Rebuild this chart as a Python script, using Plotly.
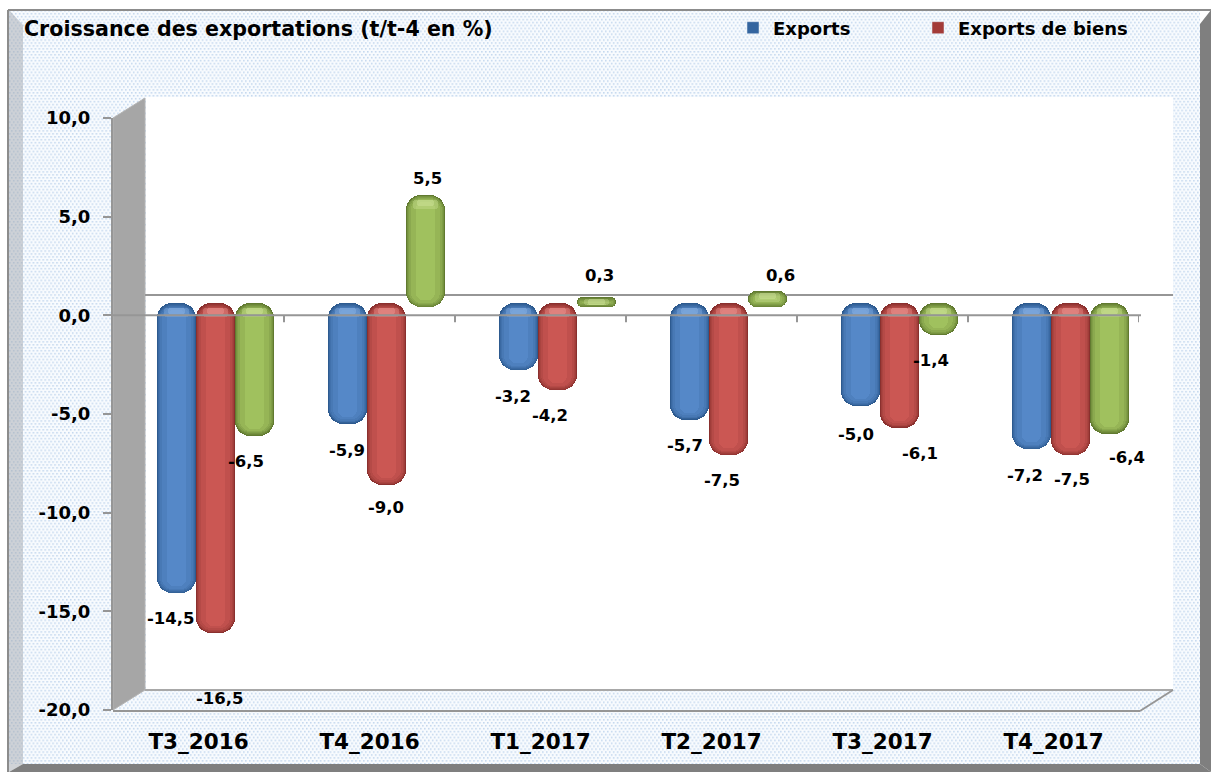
import urllib.parse
import plotly.graph_objects as go

categories = ["T3_2016", "T4_2016", "T1_2017", "T2_2017", "T3_2017", "T4_2017"]
exports = [-14.5, -5.9, -3.2, -5.7, -5.0, -7.2]
exports_biens = [-16.5, -9.0, -4.2, -7.5, -6.1, -7.5]
exports_services = [-6.5, 5.5, 0.3, 0.6, -1.4, -6.4]
y_tick_vals = [10, 5, 0, -5, -10, -15, -20]
y_tick_text = ["10,0", "5,0", "0,0", "-5,0", "-10,0", "-15,0", "-20,0"]

W, H = 1211, 772
X = lambda p: p / W
Y = lambda p: 1 - p / H
PLOT_L, PLOT_R, PLOT_T, PLOT_B = 113, 1139, 118, 710
DX, DY = 17, 8
PX_PER_UNIT = (PLOT_B - PLOT_T) / 30
ZERO_PX = PLOT_T + 10 * PX_PER_UNIT
U = 1 / PX_PER_UNIT
CAT_W = (PLOT_R - PLOT_L) / 6
BAR_W = 39 / CAT_W
GREY = "#969696"
BOLD = "DejaVu Sans"


def ramp(c0, c1, n):
    a = [int(c0[i:i + 2], 16) for i in (1, 3, 5)]
    b = [int(c1[i:i + 2], 16) for i in (1, 3, 5)]
    return ["#" + "".join(f"{round(p + (q - p) * t / (n - 1)):02x}" for p, q in zip(a, b)) for t in range(n)]


N = 7
series = [
    ("Exports", exports, ramp("#2d5a8f", "#5588c8", N), "#8db4e4", "legend", "#34659f"),
    ("Exports de biens", exports_biens, ramp("#8a302e", "#cb5753", N), "#eb9a95", "legend2", "#a33b38"),
    ("Exports de services", exports_services, ramp("#617a30", "#a0c15e", N), "#d0e49c", None, "#7f9c42"),
]
layer_frac = [1.0, 0.97, 0.94, 0.9, 0.85, 0.76, 0.5]
layer_inset = [0, 0.7, 1.4, 2.2, 3.2, 4.6, 7.0]
layer_radius = [15, 14.5, 14, 13, 12, 10, 7]

fig = go.Figure()
for j, (name, vals, cols, hi, legend, swatch) in enumerate(series):
    centre = -BAR_W + j * BAR_W
    xs = list(range(len(vals)))
    for k, col in enumerate(cols):
        w = BAR_W * layer_frac[k]
        upper = [(max(v, 0) + 4 * U - layer_inset[k] * U) for v in vals]
        lower = [(min(v, 0) + layer_inset[k] * U) for v in vals]
        lower = [min(b, a - 0.2 * U) for a, b in zip(upper, lower)]
        fig.add_bar(x=xs, y=[b - a for a, b in zip(upper, lower)], base=upper, name=name,
                    width=w, offset=centre - w / 2, xaxis="x2", yaxis="y2", hoverinfo="skip",
                    showlegend=False,
                    marker=dict(color=col, line=dict(width=0), cornerradius=layer_radius[k]))
    # soft highlight just below the rounded upper end of each bar
    for w_frac, depth, op in [(0.62, 9, 0.35), (0.42, 6, 0.45)]:
        w = BAR_W * w_frac
        tops = [max(v, 0) - 1 * U if v < -1 or v > 1 else max(v, 0) + 2.5 * U for v in vals]
        lows = [max(t - depth * U, min(v, 0) + 2.5 * U) for t, v in zip(tops, vals)]
        fig.add_bar(x=xs, y=[lo - t for t, lo in zip(tops, lows)], base=tops, width=w,
                    offset=centre - w / 2, xaxis="x2", yaxis="y2", hoverinfo="skip", showlegend=False,
                    opacity=op, marker=dict(color=hi, line=dict(width=0), cornerradius=3))
    if legend:
        fig.add_bar(x=[None], y=[None], name=name, xaxis="x2", yaxis="y2", legend=legend,
                    marker=dict(color=swatch))

# invisible anchor so the front-plane axes exist
fig.add_scatter(x=list(range(6)), y=exports, mode="none", showlegend=False, hoverinfo="skip")

svg = (f'<svg xmlns="http://www.w3.org/2000/svg" width="{W}" height="{H}">'
       '<defs><pattern id="d" width="4" height="6" patternUnits="userSpaceOnUse">'
       '<rect width="4" height="6" fill="#f8fbfe"/>'
       '<rect x="0" y="0" width="1.6" height="1.6" fill="#c3d7ee"/>'
       '<rect x="2" y="3" width="1.6" height="1.6" fill="#c3d7ee"/></pattern></defs>'
       f'<rect width="{W}" height="{H}" fill="url(#d)"/></svg>')
bg_src = "data:image/svg+xml," + urllib.parse.quote(svg)


def poly(points, fill, line=None, lw=0, layer="below"):
    d = "M" + " L".join(f"{X(a):.5f},{Y(b):.5f}" for a, b in points) + " Z"
    return dict(type="path", xref="paper", yref="paper", path=d, fillcolor=fill, layer=layer,
                line=dict(color=line or "rgba(0,0,0,0)", width=lw))


def seg(a, b, c, d, color=GREY, width=2, layer="below"):
    return dict(type="line", xref="paper", yref="paper", x0=X(a), y0=Y(b), x1=X(c), y1=Y(d), layer=layer,
                line=dict(color=color, width=width))


shapes = [
    poly([(146, 97), (1173, 97), (1173, 690), (146, 690)], "#ffffff"),
    poly([(113, 118), (145, 98), (145, 690), (113, 710)], "#a6a6a6", "#b4b4b4", 1),
    seg(145, 690, 1173, 690, "#a8a8a8", 2),
    seg(113, 711, 1140, 711, GREY, 2),
    seg(1140, 711, 1173, 690, GREY, 2),
    seg(145, 295, 1173, 295, GREY, 2),
    poly([(9, 10), (23, 25), (23, 764), (9, 772)], "rgba(170,175,182,0.55)"),
    poly([(9, 772), (23, 764), (1200, 764), (1211, 772)], "#7f7f7f"),
    poly([(1211, 10), (1200, 24), (1200, 764), (1211, 772)], "#7f7f7f"),
    seg(8, 10, 1211, 10, "#8c8c8c", 2),
    seg(8, 10, 8, 772, "#8c8c8c", 2),
    seg(PLOT_L, ZERO_PX, 1141, ZERO_PX, GREY, 2, layer="above"),
]
for i in range(1, 7):
    shapes.append(dict(type="line", xref="x", yref="y", x0=i - 0.5, x1=i - 0.5, y0=0, y1=-7 * U,
                       layer="below", line=dict(color=GREY, width=2)))

label_px = [
    [(171, 618), (347, 451), (513, 396), (685, 446), (856, 435), (1025, 476)],
    [(220, 699), (386, 508), (550, 416), (722, 481), (920, 453), (1072, 480)],
    [(246, 461), (427, 179), (599, 276), (780, 276), (931, 361), (1127, 457)],
]
annotations = [dict(text="Croissance des exportations (t/t-4 en %)", xref="paper", yref="paper",
                    x=X(22), y=Y(29), xanchor="left", yanchor="middle", showarrow=False,
                    font=dict(family=BOLD, size=20.6, color="#000000", weight="bold"))]
for (name, vals, *_), pts in zip(series, label_px):
    for i, (v, (px, py)) in enumerate(zip(vals, pts)):
        ax = PLOT_L + CAT_W * (i + 0.5)
        ay = ZERO_PX - v * PX_PER_UNIT
        annotations.append(dict(text=f"{v:.1f}".replace(".", ","), x=i, y=v, xref="x", yref="y",
                                xshift=px - ax, yshift=ay - py, showarrow=False,
                                xanchor="center", yanchor="middle",
                                font=dict(family=BOLD, size=16.5, color="#000000", weight="bold")))

legend_font = dict(family=BOLD, size=18, color="#000000", weight="bold")
fig.update_layout(
    width=W, height=H, margin=dict(l=0, r=0, t=0, b=0, pad=0, autoexpand=False), autosize=False,
    paper_bgcolor="#ffffff", plot_bgcolor="rgba(0,0,0,0)",
    barmode="overlay", bargap=0,
    images=[dict(source=bg_src, xref="paper", yref="paper", x=X(9), y=Y(10), sizex=X(1191), sizey=754 / H,
                 sizing="stretch", xanchor="left", yanchor="top", layer="below")],
    shapes=shapes, annotations=annotations,
    showlegend=True,
    legend=dict(x=X(733), y=Y(28), xanchor="left", yanchor="middle", bgcolor="rgba(0,0,0,0)", font=legend_font),
    legend2=dict(x=X(918), y=Y(28), xanchor="left", yanchor="middle", bgcolor="rgba(0,0,0,0)", font=legend_font),
    xaxis=dict(domain=[X(PLOT_L), X(PLOT_R)], range=[-0.5, 5.5], anchor="y", tickmode="array",
               tickvals=list(range(6)), ticktext=categories, showgrid=False, zeroline=False,
               showline=False, ticks="", ticklabelstandoff=16,
               tickfont=dict(family=BOLD, size=21.5, color="#000000", weight="bold")),
    yaxis=dict(domain=[Y(PLOT_B), Y(PLOT_T)], range=[-20, 10], anchor="x", tickmode="array",
               tickvals=y_tick_vals, ticktext=y_tick_text, showgrid=False, zeroline=False,
               showline=True, linecolor=GREY, linewidth=2, ticks="outside", ticklen=8, tickcolor=GREY,
               tickwidth=2, ticklabelstandoff=9,
               tickfont=dict(family=BOLD, size=18, color="#000000", weight="bold")),
    xaxis2=dict(domain=[X(PLOT_L + DX), X(PLOT_R + DX)], range=[-0.5, 5.5], anchor="y2", visible=False),
    yaxis2=dict(domain=[Y(PLOT_B - DY), Y(PLOT_T - DY)], range=[-20, 10], anchor="x2", visible=False),
)

fig.write_html("out.html", config={"displayModeBar": False}, post_script="document.body.style.margin='0';")
